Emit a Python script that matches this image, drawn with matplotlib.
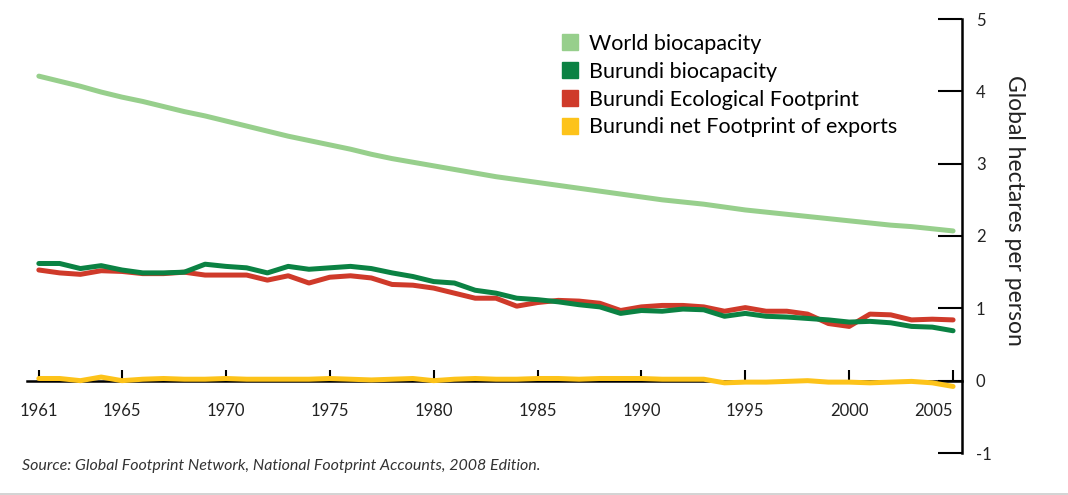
import matplotlib
matplotlib.use("Agg")
import matplotlib.pyplot as plt
from matplotlib.lines import Line2D

plt.rcParams['font.family'] = ['Lato', 'DejaVu Sans']
plt.rcParams['axes.unicode_minus'] = False

years = list(range(1961, 2006))

world_biocapacity = [4.21, 4.14, 4.07, 3.99, 3.92, 3.86, 3.79, 3.72, 3.66, 3.59,
                     3.52, 3.45, 3.38, 3.32, 3.26, 3.20, 3.13, 3.07, 3.02, 2.97,
                     2.92, 2.87, 2.82, 2.78, 2.74, 2.70, 2.66, 2.62, 2.58, 2.54,
                     2.50, 2.47, 2.44, 2.40, 2.36, 2.33, 2.30, 2.27, 2.24, 2.21,
                     2.18, 2.15, 2.13, 2.10, 2.07]

burundi_biocapacity = [1.62, 1.62, 1.55, 1.59, 1.53, 1.49, 1.49, 1.50, 1.61, 1.58,
                       1.56, 1.49, 1.58, 1.54, 1.56, 1.58, 1.55, 1.49, 1.44, 1.37,
                       1.35, 1.25, 1.21, 1.14, 1.12, 1.09, 1.05, 1.02, 0.93, 0.97,
                       0.96, 0.99, 0.98, 0.89, 0.93, 0.89, 0.88, 0.86, 0.84, 0.81,
                       0.82, 0.80, 0.75, 0.74, 0.69]

burundi_footprint = [1.53, 1.49, 1.47, 1.52, 1.51, 1.48, 1.48, 1.50, 1.46, 1.46,
                     1.46, 1.39, 1.45, 1.35, 1.43, 1.45, 1.42, 1.33, 1.32, 1.28,
                     1.21, 1.14, 1.14, 1.03, 1.08, 1.11, 1.10, 1.07, 0.97, 1.02,
                     1.04, 1.04, 1.02, 0.96, 1.01, 0.96, 0.96, 0.92, 0.79, 0.75,
                     0.92, 0.91, 0.84, 0.85, 0.84]

burundi_exports = [0.03, 0.03, 0.00, 0.05, 0.00, 0.02, 0.03, 0.02, 0.02, 0.03,
                   0.02, 0.02, 0.02, 0.02, 0.03, 0.02, 0.01, 0.02, 0.03, 0.00,
                   0.02, 0.03, 0.02, 0.02, 0.03, 0.03, 0.02, 0.03, 0.03, 0.03,
                   0.02, 0.02, 0.02, -0.03, -0.02, -0.02, -0.01, 0.00, -0.02, -0.02,
                   -0.03, -0.02, -0.01, -0.03, -0.08]

series_labels = ["World biocapacity", "Burundi biocapacity",
                 "Burundi Ecological Footprint", "Burundi net Footprint of exports"]
colors = ["#97cf8c", "#0b8243", "#cf3a2a", "#fdc31a"]

xtick_years = [1961, 1965, 1970, 1975, 1980, 1985, 1990, 1995, 2000, 2005]
yticks = [-1, 0, 1, 2, 3, 4, 5]

W, H = 1068, 495
fig = plt.figure(figsize=(W / 100, H / 100), dpi=100)
ax = fig.add_axes([27 / W, 1 - 453 / H, (962 - 27) / W, (453 - 19) / H])

lw = 3.6
ax.plot(years, world_biocapacity, color=colors[0], lw=lw, zorder=2, solid_capstyle='round')
ax.plot(years, burundi_footprint, color=colors[2], lw=lw, zorder=3, solid_capstyle='round')
ax.plot(years, burundi_biocapacity, color=colors[1], lw=lw, zorder=4, solid_capstyle='round')
ax.plot(years, burundi_exports, color=colors[3], lw=lw, zorder=5, solid_capstyle='round')

ax.set_xlim(1960.43, 2005.43)
ax.set_ylim(-1, 5)

for s in ['top', 'left']:
    ax.spines[s].set_visible(False)
ax.spines['bottom'].set_position(('data', 0))
ax.spines['bottom'].set_linewidth(1.8)
ax.spines['bottom'].set_zorder(1)
ax.spines['right'].set_linewidth(1.8)

ax.set_xticks(xtick_years)
ax.set_xticklabels([str(y) for y in xtick_years])
ax.tick_params(axis='x', direction='in', length=8, width=1.5, pad=16,
               labelsize=12, colors='black', labelcolor='#222222')
lbls = ax.get_xticklabels()
lbls[-1].set_horizontalalignment('right')

ax.yaxis.tick_right()
ax.set_yticks(yticks)
ax.set_yticklabels([str(v) for v in yticks])
ax.tick_params(axis='y', direction='in', length=17, width=1.5, pad=10,
               labelsize=12, labelcolor='#222222')

ax.set_ylabel("Global hectares per person", rotation=-90, fontsize=16.5, color='#222222',
              ha='center', va='center')
ax.yaxis.set_label_coords((1015 - 27) / 935, (453 - 210) / 434)

handles = [Line2D([], [], marker='s', linestyle='none', markersize=11,
                  markerfacecolor=c, markeredgecolor=c) for c in colors]
ax.legend(handles, series_labels, loc='upper left',
          bbox_to_anchor=(562 / W, 1 - 34 / H), bbox_transform=fig.transFigure,
          frameon=False, fontsize=15.5, handlelength=0.75, handletextpad=0.5,
          labelspacing=0.36, borderpad=0, borderaxespad=0)

fig.text(22 / W, 1 - 466 / H,
         "Source: Global Footprint Network, National Footprint Accounts, 2008 Edition.",
         style='italic', fontsize=11.5, color='#333333', ha='left', va='center')

fig.add_artist(Line2D([0, 1], [1.5 / H, 1.5 / H], color='#cccccc', lw=1.2,
                      transform=fig.transFigure))

fig.savefig("out.png", dpi=100, facecolor='white')
